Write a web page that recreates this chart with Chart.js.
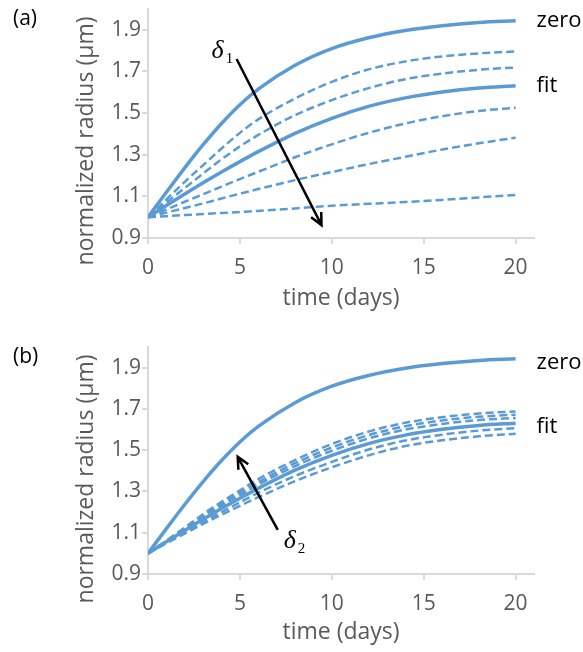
<!DOCTYPE html>
<html>
<head>
<meta charset="utf-8">
<script src="https://cdn.jsdelivr.net/npm/chart.js@4.4.1/dist/chart.umd.min.js"></script>
<style>
  body { margin: 0; background: #fff; }
  canvas { position: absolute; left: 0; }
</style>
</head>
<body>
<canvas id="panelA" width="583" height="318" style="top:0"></canvas>
<canvas id="panelB" width="583" height="314" style="top:338px"></canvas>
<script>
// sampling days shared by every run
const days = [0, 1, 2, 3, 4, 5, 6, 8, 10, 12, 14, 16, 18, 20];

// solid runs, drawn in both panels
const zeroRadius = [1.00, 1.12, 1.237, 1.348, 1.45, 1.54, 1.615, 1.73, 1.81, 1.862, 1.897, 1.92, 1.935, 1.943];
const fitRadius  = [1.00, 1.056, 1.111, 1.165, 1.217, 1.267, 1.315, 1.403, 1.475, 1.532, 1.573, 1.601, 1.62, 1.631];

// panel (a): delta1 sweep (dashed)
const d1Run1 = [1.00, 1.085, 1.17, 1.25, 1.33, 1.405, 1.47, 1.57, 1.65, 1.71, 1.748, 1.772, 1.787, 1.796];
const d1Run2 = [1.00, 1.07, 1.14, 1.21, 1.278, 1.34, 1.395, 1.49, 1.562, 1.62, 1.663, 1.69, 1.708, 1.719];
const d1Run3 = [1.00, 1.037, 1.074, 1.11, 1.147, 1.183, 1.218, 1.288, 1.35, 1.405, 1.45, 1.485, 1.51, 1.526];
const d1Run4 = [1.00, 1.022, 1.044, 1.066, 1.09, 1.113, 1.135, 1.178, 1.217, 1.255, 1.29, 1.325, 1.355, 1.382];
const d1Run5 = [1.00, 1.005, 1.01, 1.015, 1.02, 1.025, 1.03, 1.042, 1.055, 1.064, 1.073, 1.083, 1.095, 1.107];

// panel (b): delta2 sweep (dashed)
const d2Run1 = [1.00, 1.062, 1.125, 1.19, 1.25, 1.305, 1.36, 1.452, 1.53, 1.59, 1.633, 1.66, 1.678, 1.688];
const d2Run2 = [1.00, 1.06, 1.12, 1.182, 1.24, 1.293, 1.345, 1.437, 1.513, 1.573, 1.616, 1.644, 1.662, 1.672];
const d2Run3 = [1.00, 1.058, 1.116, 1.175, 1.23, 1.282, 1.333, 1.423, 1.497, 1.557, 1.60, 1.627, 1.646, 1.656];
const d2Run4 = [1.00, 1.052, 1.102, 1.153, 1.20, 1.247, 1.293, 1.375, 1.443, 1.503, 1.547, 1.575, 1.595, 1.607];
const d2Run5 = [1.00, 1.049, 1.096, 1.143, 1.187, 1.23, 1.272, 1.35, 1.417, 1.475, 1.52, 1.548, 1.567, 1.58];

// axis ticks
const xTicks = [0, 5, 10, 15, 20];
const yTicks = [0.9, 1.1, 1.3, 1.5, 1.7, 1.9];

const BLUE = '#5B9BD5';
const AXIS = '#D9D9D9';
const TEXT_GREY = '#595959';
const FONT = "'Open Sans', sans-serif";

function points(values) {
    return values.map((v, i) => ({ x: days[i], y: v }));
}

function solid(values, name) {
    return {
        data: points(values),
        endLabel: name,
        borderColor: BLUE,
        borderWidth: 3.5,
        pointRadius: 0,
        fill: false,
        cubicInterpolationMode: 'monotone'
    };
}

function dashed(values) {
    return {
        data: points(values),
        borderColor: BLUE,
        borderWidth: 2.5,
        borderDash: [8, 4],
        pointRadius: 0,
        fill: false,
        cubicInterpolationMode: 'monotone'
    };
}

// end labels, panel tag, delta arrow and y caption
const panelNotes = {
    id: 'panelNotes',
    afterDraw(chart, args, opts) {
        const ctx = chart.ctx;
        const xs = chart.scales.x, ys = chart.scales.y;
        ctx.save();

        // "zero" / "fit" next to the last point of each solid run
        ctx.fillStyle = '#000';
        ctx.font = '22px ' + FONT;
        ctx.textAlign = 'left';
        ctx.textBaseline = 'middle';
        chart.data.datasets.forEach(ds => {
            if (!ds.endLabel) return;
            const last = ds.data[ds.data.length - 1];
            ctx.fillText(ds.endLabel, xs.getPixelForValue(last.x) + 21, ys.getPixelForValue(last.y) + (opts.labelShift || 0));
        });

        // panel tag
        ctx.font = '21px ' + FONT;
        ctx.fillText(opts.tag, 13, 19);

        // y caption
        ctx.fillStyle = TEXT_GREY;
        ctx.font = '23px ' + FONT;
        ctx.textAlign = 'center';
        ctx.translate(86, chart.chartArea.top + 132);
        ctx.rotate(-Math.PI / 2);
        ctx.fillText('normalized radius (μm)', 0, 0);
        ctx.setTransform(1, 0, 0, 1, 0, 0);

        // arrow
        const x0 = xs.getPixelForValue(opts.arrow[0]), y0 = ys.getPixelForValue(opts.arrow[1]);
        const x1 = xs.getPixelForValue(opts.arrow[2]), y1 = ys.getPixelForValue(opts.arrow[3]);
        const ang = Math.atan2(y1 - y0, x1 - x0);
        ctx.strokeStyle = '#000';
        ctx.lineWidth = 2.5;
        ctx.lineCap = 'butt';
        ctx.beginPath();
        ctx.moveTo(x0, y0);
        ctx.lineTo(x1, y1);
        ctx.moveTo(x1 - 13 * Math.cos(ang - 0.45), y1 - 13 * Math.sin(ang - 0.45));
        ctx.lineTo(x1, y1);
        ctx.lineTo(x1 - 13 * Math.cos(ang + 0.45), y1 - 13 * Math.sin(ang + 0.45));
        ctx.stroke();

        // delta symbol with subscript
        const dx = xs.getPixelForValue(opts.delta[0]), dy = ys.getPixelForValue(opts.delta[1]);
        ctx.fillStyle = '#000';
        ctx.textAlign = 'center';
        ctx.textBaseline = 'alphabetic';
        ctx.font = "italic 26px 'Liberation Serif', serif";
        ctx.fillText('δ', dx, dy + 8);
        ctx.font = "15px 'Liberation Serif', serif";
        ctx.textAlign = 'left';
        ctx.fillText(opts.sub, dx + 8, dy + 13);

        ctx.restore();
    }
};

function makePanel(canvasId, runs, notes, xAxisHeight) {
    const datasets = [solid(zeroRadius, 'zero'), solid(fitRadius, 'fit')].concat(runs.map(dashed));
    new Chart(document.getElementById(canvasId), {
        type: 'line',
        data: { datasets: datasets },
        plugins: [panelNotes],
        options: {
            responsive: false,
            animation: false,
            devicePixelRatio: 1,
            layout: { padding: { left: 0, right: 49, top: 9, bottom: 0 } },
            plugins: {
                legend: { display: false },
                tooltip: { enabled: false },
                panelNotes: notes
            },
            scales: {
                x: {
                    type: 'linear',
                    min: 0,
                    max: 21,
                    afterBuildTicks: s => { s.ticks = xTicks.map(v => ({ value: v })); },
                    afterFit: s => { s.height = xAxisHeight; s.paddingLeft = 0; s.paddingRight = 0; },
                    grid: { drawOnChartArea: false, drawTicks: true, tickLength: 6, color: AXIS, lineWidth: 2 },
                    border: { color: AXIS, width: 2 },
                    ticks: {
                        color: TEXT_GREY,
                        font: { family: FONT, size: 21 },
                        padding: 11,
                        maxRotation: 0,
                        callback: v => String(v)
                    },
                    title: {
                        display: true,
                        text: 'time (days)',
                        color: TEXT_GREY,
                        font: { family: FONT, size: 23 },
                        padding: { top: 0, bottom: 6 }
                    }
                },
                y: {
                    type: 'linear',
                    min: 0.9,
                    max: 2.0,
                    afterBuildTicks: s => { s.ticks = yTicks.map(v => ({ value: v })); },
                    afterFit: s => { s.width = 148; s.paddingTop = 0; s.paddingBottom = 0; },
                    grid: { drawOnChartArea: false, drawTicks: true, tickLength: 6, color: AXIS, lineWidth: 2 },
                    border: { color: AXIS, width: 2 },
                    ticks: {
                        color: TEXT_GREY,
                        font: { family: FONT, size: 21 },
                        padding: 1,
                        callback: v => v.toFixed(1)
                    }
                }
            }
        }
    });
}

makePanel('panelA', [d1Run1, d1Run2, d1Run3, d1Run4, d1Run5], {
    tag: '(a)',
    arrow: [4.82, 1.76, 9.44, 0.962],
    delta: [3.79, 1.804],
    sub: '1'
}, 80);

makePanel('panelB', [d2Run1, d2Run2, d2Run3, d2Run4, d2Run5], {
    tag: '(b)',
    arrow: [7.06, 1.114, 4.88, 1.468],
    delta: [7.71, 1.065],
    sub: '2',
    labelShift: 4
}, 78);
</script>
</body>
</html>
